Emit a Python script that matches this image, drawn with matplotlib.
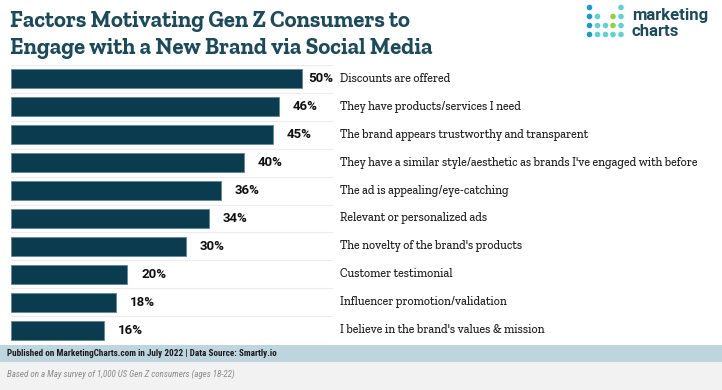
import matplotlib
matplotlib.use("Agg")
import matplotlib.pyplot as plt
from matplotlib.patches import Rectangle, Circle
from matplotlib.transforms import blended_transform_factory

categories = [
    "Discounts are offered",
    "They have products/services I need",
    "The brand appears trustworthy and transparent",
    "They have a similar style/aesthetic as brands I've engaged with before",
    "The ad is appealing/eye-catching",
    "Relevant or personalized ads",
    "The novelty of the brand's products",
    "Customer testimonial",
    "Influencer promotion/validation",
    "I believe in the brand's values & mission",
]
values = [50, 46, 45, 40, 36, 34, 30, 20, 18, 16]
value_labels = ["50%", "46%", "45%", "40%", "36%", "34%", "30%", "20%", "18%", "16%"]

title_lines = ["Factors Motivating Gen Z Consumers to",
               "Engage with a New Brand via Social Media"]
footer1 = "Published on MarketingCharts.com in July 2022 | Data Source: Smartly.io"
footer2 = "Based on a May survey of 1,000 US Gen Z consumers (ages 18-22)"

W, H = 722, 390
fig = plt.figure(figsize=(W / 100, H / 100), dpi=100)
fig.patch.set_facecolor("white")

BAR = "#0b3b4e"
TITLE = "#1b4a5b"
SLAB = ["Zilla Slab", "DejaVu Serif"]

ov = fig.add_axes([0, 0, 1, 1], zorder=5)
ov.set_xlim(0, W)
ov.set_ylim(H, 0)
ov.axis("off")

# Title
for i, line in enumerate(title_lines):
    ov.text(10, 27 + 27 * i, line, ha="left", va="baseline",
            fontsize=16.3, fontweight="bold", family=SLAB, color=TITLE)

# Logo
dot_blue, dot_teal, dot_green = "#1a9bc9", "#5fd0d6", "#8cd33f"
logo_cols = [589.5, 597.5, 605.5, 613, 621]
logo_rows = [7.5, 16.5, 25.5, 34.5]
logo_grid = [
    [dot_blue, None, None, None, dot_teal],
    [dot_blue, dot_teal, None, dot_green, dot_teal],
    [dot_blue, dot_teal, dot_teal, dot_green, dot_teal],
    [dot_blue, dot_teal, dot_teal, dot_teal, dot_teal],
]
for r, row in enumerate(logo_grid):
    for c, col in enumerate(row):
        if col:
            ov.add_patch(Circle((logo_cols[c], logo_rows[r]), 2.8, color=col, lw=0))
ov.text(632, 20, "marketing", ha="left", va="baseline", fontsize=12,
        fontweight="bold", color=TITLE, family=["Roboto", "DejaVu Sans"])
ov.text(632, 36, "charts", ha="left", va="baseline", fontsize=12,
        fontweight="bold", color=TITLE, family=["Roboto", "DejaVu Sans"])

# Footer bands
ov.add_patch(Rectangle((0, 345), W, 17, color="#bed4df", lw=0, zorder=0))
ov.add_patch(Rectangle((0, 362), W, 28, color="#f2f2f2", lw=0, zorder=0))
ov.text(7, 353.5, footer1, ha="left", va="center", fontsize=6.6,
        fontweight="bold", family=["Roboto Condensed", "DejaVu Sans"], color="#1a1a1a")
ov.text(7, 374, footer2, ha="left", va="center", fontsize=6.5,
        style="italic", family=["Roboto Condensed", "DejaVu Sans"], color="#8a8a8a")

# Bar axes
top_px, row_h = 65, 27.9
n = len(categories)
bottom_px = top_px + n * row_h
left_px, right_px = 11, 720
px_per_unit = (302 - 11) / 50.0
ax = fig.add_axes([left_px / W, 1 - bottom_px / H, (right_px - left_px) / W,
                   (bottom_px - top_px) / H])
ax.set_xlim(0, (right_px - left_px) / px_per_unit)
ax.set_ylim(n - 0.5, -0.5)
ax.axis("off")
ys = list(range(n))
ax.barh(ys, values, height=0.68, color=BAR, edgecolor="#5f8796", linewidth=0.6)
grid_end = (332 - left_px) / px_per_unit
for i in range(n + 1):
    ax.plot([0, grid_end], [i - 0.5, i - 0.5], color="#ececec", lw=0.8, zorder=0)
trans = blended_transform_factory(fig.transFigure, ax.transData)
for y, v, vl, cat in zip(ys, values, value_labels, categories):
    off = 1.0 if v == max(values) else 2.4
    ax.text(v + off, y, vl, ha="left", va="center",
            fontsize=9.5, fontweight="bold", family=["Roboto", "DejaVu Sans"], color="#111111")
    ax.text(340 / W, y, cat, transform=trans, ha="left", va="center",
            fontsize=8.5, fontweight=500, family=SLAB, color="#222222")

fig.savefig("out.png", dpi=100)
